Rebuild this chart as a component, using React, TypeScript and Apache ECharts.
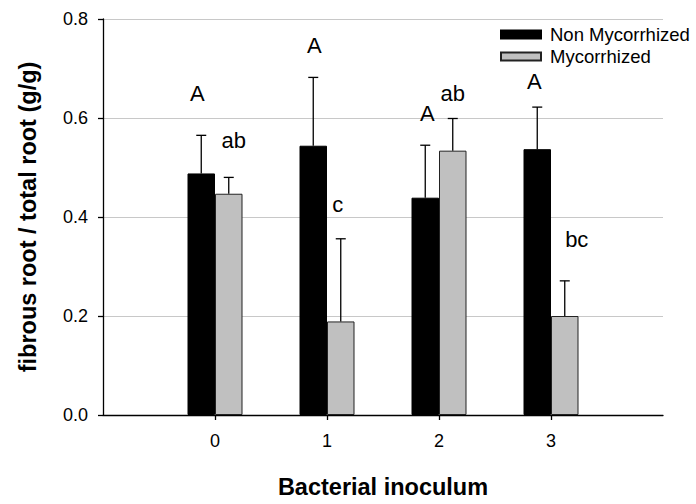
import React, { useEffect, useRef } from "react";
import * as echarts from "echarts";

const categories = ["", "0", "1", "2", "3", ""];
const nonMycorrhized = [0.488, 0.544, 0.439, 0.537];
const mycorrhized = [0.447, 0.189, 0.534, 0.2];
const nonMycorrhizedErrTop = [0.565, 0.682, 0.545, 0.622];
const mycorrhizedErrTop = [0.48, 0.356, 0.599, 0.271];
const nonMycLetters = ["A", "A", "A", "A"];
const nonMycLetterAt = [0.65, 0.747, 0.61, 0.673];
const mycLetters = ["ab", "c", "ab", "bc"];
const mycLetterAt = [0.554, 0.425, 0.65, 0.355];
const yTicks = [0, 0.2, 0.4, 0.6, 0.8];

const BAR_W = 27.5;
const FONT = "Liberation Sans, Arial, sans-serif";

export default function App() {
  const ref = useRef<HTMLDivElement>(null);
  useEffect(() => {
    if (!ref.current) return;
    document.body.style.margin = "0";
    const chart = echarts.init(ref.current, undefined, { renderer: "svg", width: 696, height: 504 });

    const pad = (arr: any[]) => [null, ...arr, null];

    const errSeries = (name: string, tops: number[], vals: number[], dir: number) => ({
      type: "custom",
      name,
      silent: true,
      z: 5,
      data: tops.map((t, i) => [i + 1, vals[i], t]),
      renderItem: (params: any, api: any) => {
        const base = api.coord([api.value(0), api.value(1)]);
        const top = api.coord([api.value(0), api.value(2)]);
        const x = base[0] + dir * BAR_W / 2;
        const style = { stroke: "#000", lineWidth: 1.3 };
        return {
          type: "group",
          children: [
            { type: "line", shape: { x1: x, y1: base[1], x2: x, y2: top[1] }, style },
            { type: "line", shape: { x1: x - 5, y1: top[1], x2: x + 5, y2: top[1] }, style },
          ],
        };
      },
    });

    const letterSeries = (name: string, letters: string[], at: number[], dir: number, dx: number[]) => ({
      type: "custom",
      name,
      silent: true,
      z: 6,
      data: at.map((v, i) => [i + 1, v, letters[i]]),
      renderItem: (params: any, api: any) => {
        const p = api.coord([api.value(0), api.value(1)]);
        const i = params.dataIndex;
        return {
          type: "text",
          x: p[0] + dir * BAR_W / 2 + dx[i],
          y: p[1],
          style: {
            text: letters[i],
            fill: "#000",
            font: `22px ${FONT}`,
            align: "center",
            verticalAlign: "middle",
          },
        };
      },
    });

    chart.setOption({
      animation: false,
      textStyle: { fontFamily: FONT },
      grid: { left: 103, right: 33, top: 19, bottom: 82.5 },
      legend: {
        data: ["Non Mycorrhized", "Mycorrhized"],
        orient: "vertical",
        left: 500,
        top: 25,
        padding: 0,
        itemWidth: 40,
        itemHeight: 8,
        itemGap: 3,
        icon: "rect",
        textStyle: { fontSize: 18.5, color: "#000", fontFamily: FONT, padding: [0, 0, 0, 4] },
      },
      xAxis: {
        type: "category",
        data: categories,
        boundaryGap: false,
        name: "Bacterial inoculum",
        nameLocation: "middle",
        nameGap: 60,
        nameTextStyle: { fontSize: 23.5, fontWeight: "bold", color: "#000", fontFamily: FONT },
        axisLine: { lineStyle: { color: "#000", width: 1.3 } },
        axisTick: {
          show: true,
          length: 5,
          interval: (idx: number, val: string) => val !== "",
          lineStyle: { color: "#000", width: 1.3 },
        },
        axisLabel: { fontSize: 18, color: "#000", margin: 17, interval: 0 },
        splitLine: { show: false },
      },
      yAxis: {
        type: "value",
        min: yTicks[0],
        max: yTicks[yTicks.length - 1],
        interval: 0.2,
        name: "fibrous root / total root (g/g)",
        nameLocation: "middle",
        nameGap: 63,
        nameTextStyle: { fontSize: 23.5, fontWeight: "bold", color: "#000", fontFamily: FONT },
        axisLine: { show: true, lineStyle: { color: "#000", width: 1.3 } },
        axisTick: { show: true, length: 5, lineStyle: { color: "#000", width: 1.3 } },
        axisLabel: { fontSize: 18, color: "#000", margin: 15, formatter: (v: number) => v.toFixed(1) },
        splitLine: { show: true, lineStyle: { color: "#c8c8c8", width: 1 } },
      },
      series: [
        {
          type: "bar",
          name: "Non Mycorrhized",
          data: pad(nonMycorrhized),
          barWidth: BAR_W,
          barGap: "0%",
          itemStyle: { color: "#000", borderColor: "#000", borderWidth: 1 },
        },
        {
          type: "bar",
          name: "Mycorrhized",
          data: pad(mycorrhized),
          barWidth: BAR_W,
          barGap: "0%",
          itemStyle: { color: "#c0c0c0", borderColor: "#222", borderWidth: 1 },
        },
        errSeries("errNon", nonMycorrhizedErrTop, nonMycorrhized, -1),
        errSeries("errMyc", mycorrhizedErrTop, mycorrhized, 1),
        letterSeries("letNon", nonMycLetters, nonMycLetterAt, -1, [-4, 1, 2, -3]),
        letterSeries("letMyc", mycLetters, mycLetterAt, 1, [5, -3, 0, 12]),
      ],
    });
    return () => chart.dispose();
  }, []);
  return <div ref={ref} style={{ width: 696, height: 504 }} />;
}
